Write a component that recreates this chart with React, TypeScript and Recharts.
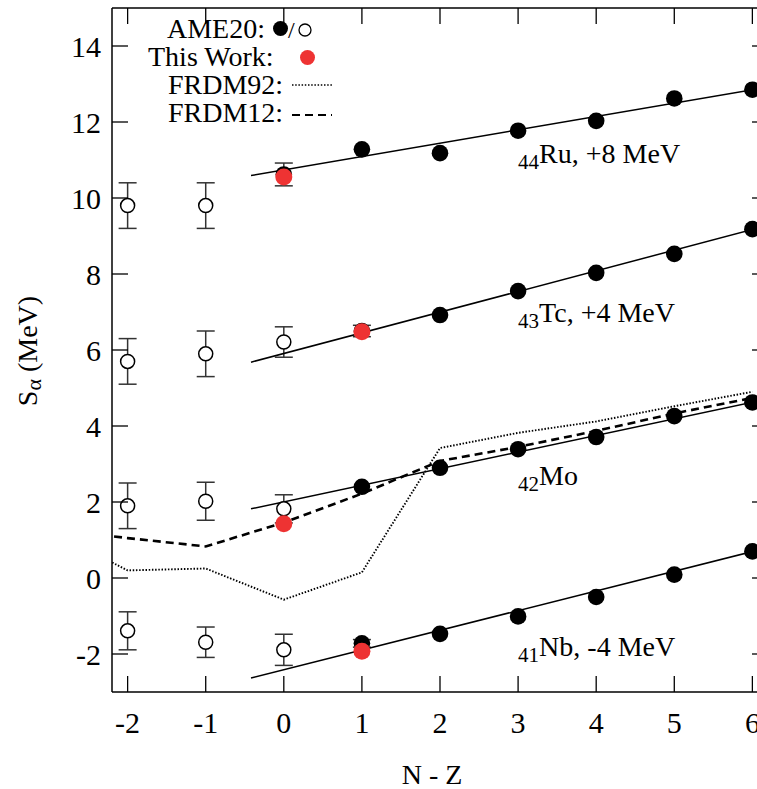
import React from 'react';
import { ComposedChart, Scatter, XAxis, YAxis, ErrorBar, ReferenceDot } from 'recharts';

const FONT = '"Liberation Serif", "Times New Roman", serif';

const xTicks = [-2, -1, 0, 1, 2, 3, 4, 5, 6];
const yTicks = [-2, 0, 2, 4, 6, 8, 10, 12, 14];

// AME20 measured values (filled), N-Z = 0..6, null where not drawn
const nzFilled = [0, 1, 2, 3, 4, 5, 6];
const ruFilled = [10.62, 11.28, 11.18, 11.77, 12.03, 12.62, 12.85];
const tcFilled = [null, 6.5, 6.92, 7.55, 8.03, 8.53, 9.18];
const moFilled = [null, 2.4, 2.9, 3.39, 3.71, 4.26, 4.62];
const nbFilled = [null, -1.72, -1.47, -1.01, -0.5, 0.09, 0.7];
// error bars on measured points (0 = smaller than the symbol)
const ruFilledErr = [0.3, 0, 0, 0, 0, 0, 0];
const tcFilledErr = [0, 0.15, 0, 0, 0, 0, 0];
const moFilledErr = [0, 0, 0, 0, 0, 0, 0];
const nbFilledErr = [0, 0.1, 0, 0, 0, 0, 0];

// AME20 extrapolated (open), N-Z = -2..0
const nzOpen = [-2, -1, 0];
const ruOpen = [9.8, 9.8, null];
const tcOpen = [5.7, 5.9, 6.21];
const moOpen = [1.9, 2.02, 1.82];
const nbOpen = [-1.39, -1.69, -1.89];
const ruOpenErr = [0.6, 0.6, 0];
const tcOpenErr = [0.6, 0.6, 0.4];
const moOpenErr = [0.6, 0.5, 0.37];
const nbOpenErr = [0.5, 0.4, 0.41];

// this work
const twNZ = [0, 1, 0, 1];
const twSa = [10.55, 6.48, 1.43, -1.93];

// linear trends
const fitNZ = [-0.42, 6.2];
const ruFit = [10.59, 12.92];
const tcFit = [5.68, 9.28];
const moFit = [1.82, 4.71];
const nbFit = [-2.63, 0.8];

// mass models for Mo
const frdmNZ = [-3, -2, -1, 0, 1, 2, 3, 4, 5, 6];
const frdm92 = [1.25, 0.2, 0.25, -0.57, 0.15, 3.42, 3.82, 4.12, 4.52, 4.9];
const frdm12 = [1.3, 1.05, 0.83, 1.46, 2.22, 3.08, 3.45, 3.87, 4.33, 4.74];

const zip = (xs: number[], ys: (number | null)[], errs?: number[]) =>
  xs.map((x, i) => ({ x, y: ys[i], err: errs ? errs[i] : 0 })).filter((p) => p.y !== null);

const filledAll = [
  ...zip(nzFilled, ruFilled, ruFilledErr),
  ...zip(nzFilled, tcFilled, tcFilledErr),
  ...zip(nzFilled, moFilled, moFilledErr),
  ...zip(nzFilled, nbFilled, nbFilledErr),
];
const filledErr = filledAll.filter((p) => p.err > 0);
const openAll = [
  ...zip(nzOpen, ruOpen, ruOpenErr),
  ...zip(nzOpen, tcOpen, tcOpenErr),
  ...zip(nzOpen, moOpen, moOpenErr),
  ...zip(nzOpen, nbOpen, nbOpenErr),
];
const thisWork = zip(twNZ, twSa);

const chainLabels = [
  { x: 3.0, y: 10.93, sub: '44', text: 'Ru, +8 MeV' },
  { x: 3.0, y: 6.74, sub: '43', text: 'Tc, +4 MeV' },
  { x: 3.0, y: 2.46, sub: '42', text: 'Mo' },
  { x: 3.0, y: -2.04, sub: '41', text: 'Nb, -4 MeV' },
];

const FilledDot = (p: any) => <circle cx={p.cx} cy={p.cy} r={8.3} fill="#000" />;
const OpenDot = (p: any) => <circle cx={p.cx} cy={p.cy} r={7} fill="#fff" stroke="#000" strokeWidth={1.5} />;
const RedDot = (p: any) => <circle cx={p.cx} cy={p.cy} r={8.5} fill="#ee3333" />;
const NoDot = () => <g />;

const BottomTick = (p: any) => (
  <g>
    <line x1={p.x} y1={p.y} x2={p.x} y2={p.y - 16} stroke="#000" strokeWidth={1.3} />
    <text x={p.x} y={p.y + 41} textAnchor="middle" fontFamily={FONT} fontSize={30} fill="#000">
      {p.payload.value}
    </text>
  </g>
);
const TopTick = (p: any) => (
  <line x1={p.x} y1={p.y} x2={p.x} y2={p.y + 16} stroke="#000" strokeWidth={1.3} />
);
const LeftTick = (p: any) => (
  <g>
    <line x1={p.x} y1={p.y} x2={p.x + 16} y2={p.y} stroke="#000" strokeWidth={1.3} />
    <text x={p.x - 11} y={p.y + 11} textAnchor="end" fontFamily={FONT} fontSize={30} fill="#000">
      {p.payload.value}
    </text>
  </g>
);
const RightTick = (p: any) => (
  <line x1={p.x} y1={p.y} x2={p.x - 16} y2={p.y} stroke="#000" strokeWidth={1.3} />
);

const chainText = (sub: string, text: string) => (props: any) => {
  const vb = props.viewBox;
  const x = vb.x + (vb.width || 0) / 2;
  const y = vb.y + (vb.height || 0) / 2;
  return (
    <text x={x} y={y} fontFamily={FONT} fontSize={28} fill="#000">
      <tspan fontSize={21} dy={6}>{sub}</tspan>
      <tspan dy={-6}>{text}</tspan>
    </text>
  );
};

const axisLine = { stroke: '#000', strokeWidth: 1.5 };

export default function App() {
  return (
    <div style={{ position: 'absolute', left: 0, top: 0, width: 757, height: 789, overflow: 'hidden', background: '#fff' }}>
      <ComposedChart width={800} height={789} margin={{ top: 7, right: 31, bottom: 96, left: 111 }}>
        <XAxis
          xAxisId="b"
          type="number"
          dataKey="x"
          domain={[-2.2, 6.2]}
          allowDataOverflow
          ticks={xTicks}
          interval={0}
          height={1}
          tickSize={0}
          tickMargin={0}
          tick={BottomTick}
          axisLine={axisLine}
        />
        <XAxis
          xAxisId="t"
          orientation="top"
          type="number"
          dataKey="x"
          domain={[-2.2, 6.2]}
          allowDataOverflow
          ticks={xTicks}
          interval={0}
          height={1}
          tickSize={0}
          tickMargin={0}
          tick={TopTick}
          axisLine={axisLine}
        />
        <YAxis
          yAxisId="l"
          type="number"
          dataKey="y"
          domain={[-3, 15]}
          allowDataOverflow
          ticks={yTicks}
          interval={0}
          width={1}
          tickSize={0}
          tickMargin={0}
          tick={LeftTick}
          axisLine={axisLine}
        />
        <YAxis
          yAxisId="r"
          orientation="right"
          type="number"
          dataKey="y"
          domain={[-3, 15]}
          allowDataOverflow
          ticks={yTicks}
          interval={0}
          width={1}
          tickSize={0}
          tickMargin={0}
          tick={RightTick}
          axisLine={axisLine}
        />

        <Scatter xAxisId="t" yAxisId="r" data={zip(frdmNZ, frdm92)} shape={NoDot} line={{ stroke: '#000', strokeWidth: 1.9, strokeDasharray: '1.5 1.7' }} isAnimationActive={false} />
        <Scatter xAxisId="b" yAxisId="l" data={zip(frdmNZ, frdm12)} shape={NoDot} line={{ stroke: '#000', strokeWidth: 2.6, strokeDasharray: '8 5' }} isAnimationActive={false} />
        <Scatter xAxisId="b" yAxisId="l" data={zip(fitNZ, ruFit)} shape={NoDot} line={{ stroke: '#000', strokeWidth: 1.5 }} isAnimationActive={false} />
        <Scatter xAxisId="b" yAxisId="l" data={zip(fitNZ, tcFit)} shape={NoDot} line={{ stroke: '#000', strokeWidth: 1.5 }} isAnimationActive={false} />
        <Scatter xAxisId="b" yAxisId="l" data={zip(fitNZ, moFit)} shape={NoDot} line={{ stroke: '#000', strokeWidth: 1.5 }} isAnimationActive={false} />
        <Scatter xAxisId="b" yAxisId="l" data={zip(fitNZ, nbFit)} shape={NoDot} line={{ stroke: '#000', strokeWidth: 1.5 }} isAnimationActive={false} />

        <Scatter xAxisId="b" yAxisId="l" data={openAll} shape={OpenDot} isAnimationActive={false}>
          <ErrorBar dataKey="err" direction="y" width={9} stroke="#333" strokeWidth={1.5} />
        </Scatter>
        <Scatter xAxisId="b" yAxisId="l" data={filledErr} shape={NoDot} isAnimationActive={false}>
          <ErrorBar dataKey="err" direction="y" width={9} stroke="#333" strokeWidth={1.5} />
        </Scatter>
        <Scatter xAxisId="b" yAxisId="l" data={filledAll} shape={FilledDot} isAnimationActive={false} />
        <Scatter xAxisId="b" yAxisId="l" data={thisWork} shape={RedDot} isAnimationActive={false} />

        {chainLabels.map((c) => (
          <ReferenceDot
            key={c.sub}
            xAxisId="b"
            yAxisId="l"
            x={c.x}
            y={c.y}
            r={0}
            fill="none"
            stroke="none"
            label={chainText(c.sub, c.text)}
          />
        ))}
      </ComposedChart>

      <svg width={757} height={789} style={{ position: 'absolute', left: 0, top: 0, pointerEvents: 'none' }}>
        <g fontFamily={FONT} fill="#000">
          <text x={167} y={38} fontSize={28}>AME20:</text>
          <circle cx={280.5} cy={28.5} r={7.5} fill="#000" />
          <text x={288} y={38} fontSize={24}>/</text>
          <circle cx={305} cy={30} r={6} fill="#fff" stroke="#000" strokeWidth={1.3} />
          <text x={148} y={66} fontSize={28}>This Work:</text>
          <circle cx={307.5} cy={57.5} r={7.5} fill="#ee3333" />
          <text x={168} y={94} fontSize={28}>FRDM92:</text>
          <line x1={292} y1={85} x2={332} y2={85} stroke="#000" strokeWidth={1.7} strokeDasharray="1.5 1.7" />
          <text x={168} y={122} fontSize={28}>FRDM12:</text>
          <line x1={292} y1={115} x2={332} y2={115} stroke="#000" strokeWidth={2.2} strokeDasharray="8 5" />
          <text x={432} y={784} fontSize={28} textAnchor="middle">N - Z</text>
          <text transform="translate(37,351) rotate(-90)" fontSize={28} textAnchor="middle">
            S<tspan fontSize={22} dy={4}>α</tspan>
            <tspan dy={-4}> (MeV)</tspan>
          </text>
        </g>
      </svg>
    </div>
  );
}
